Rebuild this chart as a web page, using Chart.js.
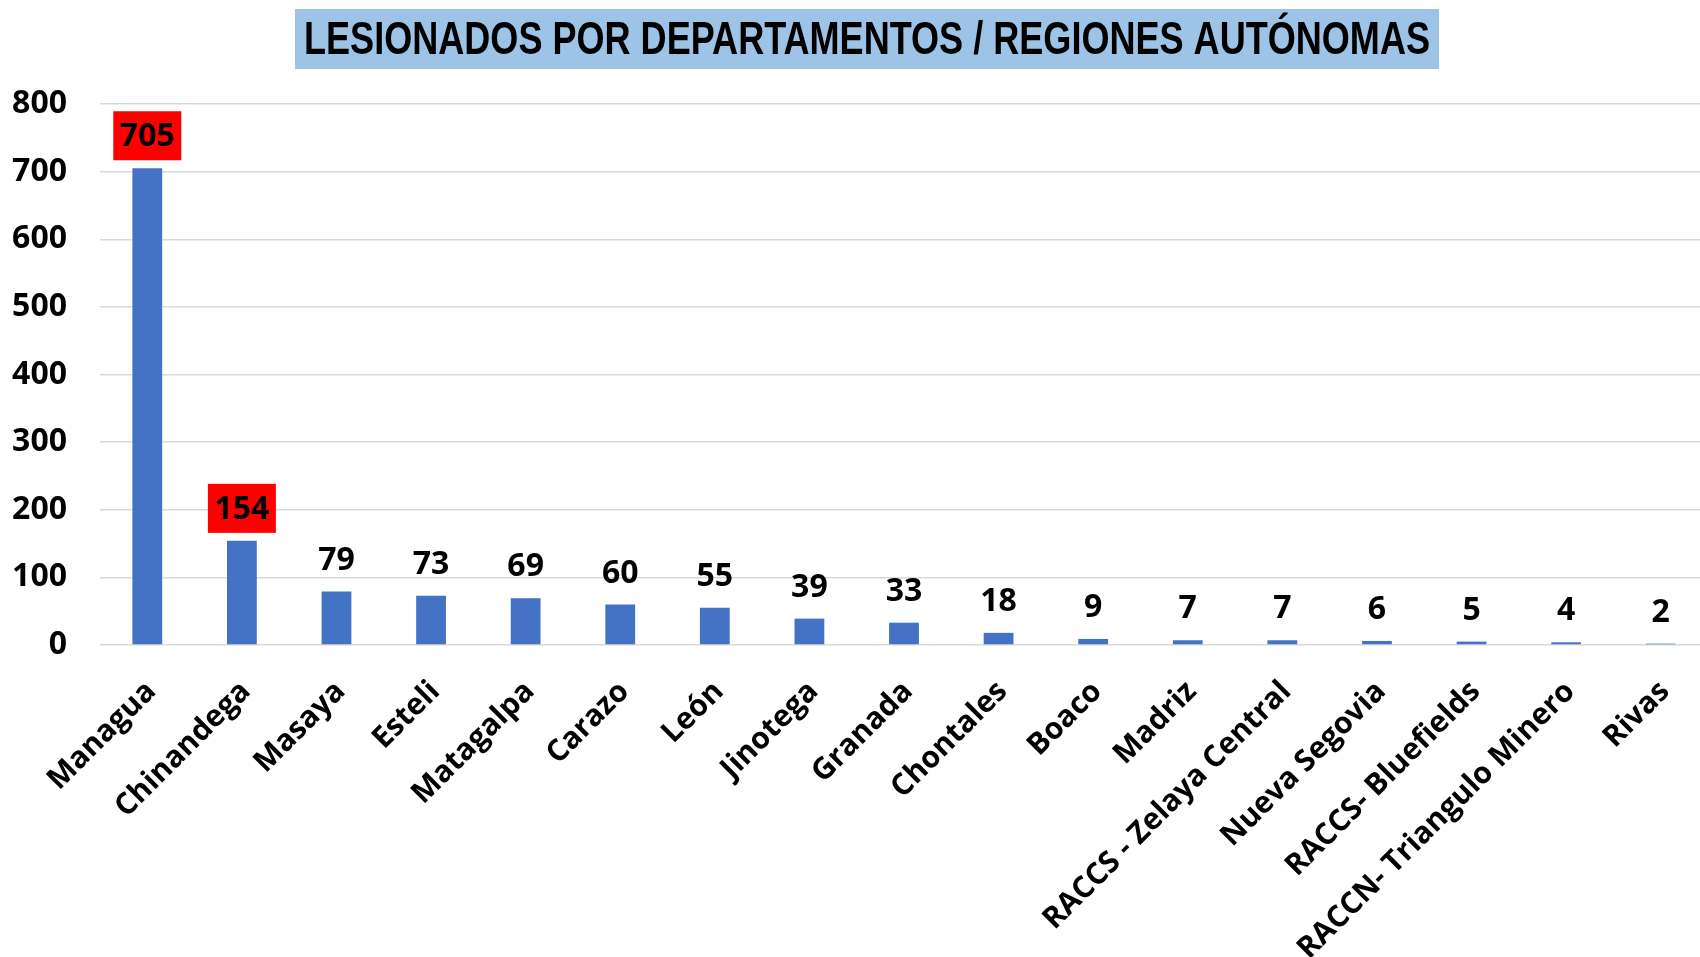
<!DOCTYPE html>
<html><head><meta charset="utf-8">
<script src="https://cdn.jsdelivr.net/npm/chart.js@4.4.1/dist/chart.umd.min.js"></script>
<style>
html,body{margin:0;padding:0;background:#fff;overflow:hidden;width:1700px;height:957px}
#wrap{position:relative;width:1720px;height:957px}
</style></head><body>
<div id="wrap"><canvas id="c" width="1720" height="957"></canvas></div>
<script>
// ---- data ----
const titleText = 'LESIONADOS POR DEPARTAMENTOS / REGIONES AUTÓNOMAS';
const categories = ['Managua','Chinandega','Masaya','Esteli','Matagalpa','Carazo','León','Jinotega','Granada','Chontales','Boaco','Madriz','RACCS - Zelaya Central','Nueva Segovia','RACCS- Bluefields','RACCN- Triangulo Minero','Rivas'];
const values = [705,154,79,73,69,60,55,39,33,18,9,7,7,6,5,4,2];
const yTickValues = [0,100,200,300,400,500,600,700,800];
const highlightedCategories = ['Managua','Chinandega'];

// ---- style ----
const FONT = "'Open Sans', 'Liberation Sans', sans-serif";
const barColor = '#4472C4';
const gridColor = '#d9d9d9';

const titlePlugin = {
  id: 'titleBox',
  beforeDraw(chart) {
    const ctx = chart.ctx;
    ctx.save();
    ctx.fillStyle = '#9DC3E6';
    ctx.fillRect(295, 9, 1144, 60);
    ctx.font = "bold 46px 'Liberation Sans Narrow', 'Liberation Sans', sans-serif";
    const w = ctx.measureText(titleText).width;
    const sx = 1126 / w;
    ctx.translate(867, 41);
    ctx.scale(sx, 1);
    ctx.fillStyle = '#000';
    ctx.textAlign = 'center';
    ctx.textBaseline = 'middle';
    ctx.fillText(titleText, 0, 0);
    ctx.restore();
  }
};

const labelPlugin = {
  id: 'valueLabels',
  afterDatasetsDraw(chart) {
    const ctx = chart.ctx;
    const meta = chart.getDatasetMeta(0);
    const data = chart.data.datasets[0].data;
    ctx.save();
    ctx.font = 'bold 32px ' + FONT;
    ctx.textAlign = 'center';
    ctx.textBaseline = 'middle';
    meta.data.forEach((bar, i) => {
      const cx = bar.x, cy = bar.y - 33;
      if (highlightedCategories.includes(chart.data.labels[i])) {
        ctx.fillStyle = '#FF0000';
        ctx.fillRect(cx - 34, cy - 24, 68, 49);
      }
      ctx.fillStyle = '#000';
      ctx.fillText(String(data[i]), cx, cy + 2);
    });
    ctx.restore();
  }
};

new Chart(document.getElementById('c'), {
  type: 'bar',
  data: {
    labels: categories,
    datasets: [{
      data: values,
      backgroundColor: barColor,
      borderWidth: 0,
      categoryPercentage: 1,
      barPercentage: 0.315
    }]
  },
  options: {
    responsive: false,
    animation: false,
    devicePixelRatio: 1,
    layout: { padding: { top: 104, right: 12, left: 0, bottom: 0 } },
    plugins: { legend: { display: false }, title: { display: false }, tooltip: { enabled: false } },
    scales: {
      x: {
        grid: { display: false, drawTicks: false },
        border: { display: false },
        ticks: {
          autoSkip: false, minRotation: 45, maxRotation: 45,
          color: '#000', padding: 29, labelOffset: 4,
          font: { family: FONT, size: 30, weight: 'bold' }
        },
        afterFit(s) { s.height = 312; }
      },
      y: {
        min: 0, max: 800,
        afterBuildTicks(s) { s.ticks = yTickValues.map(v => ({ value: v })); },
        grid: { color: gridColor, lineWidth: 1.5, drawTicks: false },
        border: { display: false },
        ticks: {
          color: '#000', padding: 33,
          font: { family: FONT, size: 32, weight: 'bold' }
        },
        afterFit(s) { s.width = 100; }
      }
    }
  },
  plugins: [titlePlugin, labelPlugin]
});
</script>
</body></html>
